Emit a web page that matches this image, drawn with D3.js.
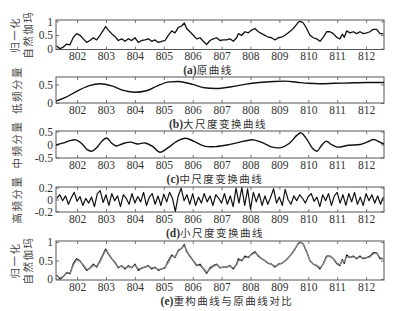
<!DOCTYPE html>
<html><head><meta charset="utf-8">
<script src="https://cdn.jsdelivr.net/npm/d3@7"></script>
<style>
html,body{margin:0;padding:0;background:#fff;}
svg{display:block;}
</style></head>
<body>
<svg id="chart" width="394" height="311"></svg>
<script>
// ---------- DATA ----------
const xTicks = [802, 803, 804, 805, 806, 807, 808, 809, 810, 811, 812];
const xDomain = [801.27, 812.62];

// (a) original curve
const origTime = [801.293,801.408,801.524,801.639,801.754,801.870,801.985,802.100,802.216,802.331,802.446,802.562,802.677,802.792,802.908,802.988,803.081,803.196,803.311,803.427,803.542,803.657,803.773,803.888,804.003,804.119,804.234,804.350,804.465,804.580,804.696,804.811,804.926,805.042,805.157,805.272,805.388,805.503,805.618,805.710,805.791,805.906,806.022,806.137,806.252,806.368,806.483,806.598,806.714,806.829,806.944,807.060,807.175,807.290,807.406,807.521,807.579,807.694,807.809,807.925,808.040,808.155,808.271,808.386,808.501,808.617,808.732,808.847,808.963,809.078,809.193,809.309,809.424,809.539,809.655,809.735,809.828,809.943,810.058,810.174,810.289,810.404,810.520,810.635,810.750,810.866,810.981,811.096,811.177,811.246,811.327,811.442,811.558,811.673,811.788,811.904,812.019,812.134,812.250,812.365,812.481,812.596];
const origValue = [0.10,0.00,0.06,0.17,0.14,0.42,0.55,0.49,0.36,0.23,0.30,0.40,0.32,0.49,0.68,0.81,0.68,0.55,0.45,0.30,0.36,0.27,0.36,0.30,0.40,0.23,0.30,0.32,0.36,0.27,0.32,0.23,0.27,0.30,0.49,0.65,0.58,0.78,0.83,0.94,0.74,0.62,0.49,0.36,0.40,0.27,0.15,0.30,0.36,0.40,0.30,0.32,0.32,0.36,0.27,0.40,0.55,0.49,0.62,0.58,0.68,0.74,0.62,0.55,0.49,0.42,0.40,0.32,0.40,0.42,0.49,0.58,0.68,0.81,0.97,1.00,0.94,0.74,0.49,0.40,0.36,0.27,0.42,0.62,0.62,0.55,0.42,0.36,0.53,0.42,0.65,0.58,0.62,0.55,0.62,0.55,0.58,0.62,0.71,0.71,0.55,0.55];
// (e) reconstructed curve (same sampling times)
const reconValue = [0.08,0.03,0.07,0.15,0.17,0.38,0.52,0.48,0.38,0.26,0.28,0.37,0.35,0.46,0.66,0.77,0.70,0.56,0.43,0.32,0.34,0.30,0.33,0.31,0.37,0.27,0.28,0.33,0.34,0.30,0.30,0.26,0.27,0.32,0.45,0.62,0.60,0.75,0.84,0.90,0.77,0.60,0.50,0.38,0.36,0.29,0.18,0.27,0.34,0.38,0.32,0.31,0.33,0.34,0.30,0.38,0.50,0.52,0.58,0.60,0.66,0.71,0.64,0.55,0.50,0.43,0.39,0.35,0.38,0.43,0.48,0.57,0.69,0.82,0.95,0.99,0.95,0.76,0.50,0.40,0.37,0.30,0.40,0.60,0.61,0.55,0.44,0.38,0.50,0.46,0.60,0.59,0.60,0.57,0.59,0.57,0.57,0.60,0.68,0.70,0.58,0.55];

// (b) low-frequency component
const lowTime  = [801.27,801.6,802.0,802.4,802.8,803.2,803.6,804.0,804.4,804.8,805.2,805.5,806.0,806.4,806.8,807.3,807.8,808.3,808.8,809.2,809.6,810.0,810.4,810.9,811.4,812.0,812.62];
const lowValue = [0.05,0.15,0.32,0.46,0.52,0.46,0.34,0.29,0.33,0.47,0.57,0.58,0.50,0.41,0.39,0.43,0.50,0.55,0.58,0.59,0.56,0.53,0.52,0.53,0.54,0.55,0.55];

// (c) mid-frequency component
const midTime  = [801.27,801.5,801.75,801.95,802.15,802.35,802.5,802.7,802.85,803.02,803.2,803.35,803.6,803.85,804.1,804.35,804.6,804.87,805.15,805.45,805.75,806.05,806.4,806.8,807.2,807.6,808.1,808.45,808.75,809.05,809.35,809.6,809.75,809.95,810.15,810.3,810.45,810.62,810.8,811.0,811.4,811.8,812.05,812.27,812.45,812.62];
const midValue = [-0.02,0.05,0.15,0.18,0.05,-0.2,-0.26,-0.1,0.12,0.25,0.05,-0.06,0.04,0.09,0.02,0.06,-0.06,-0.3,-0.12,0.12,0.24,0.12,-0.06,-0.08,-0.02,0.08,0.18,0.05,-0.1,-0.12,0.05,0.35,0.45,0.2,-0.15,-0.26,-0.05,0.13,0.0,-0.1,-0.03,0.0,0.1,0.19,0.1,0.02];

// (d) high-frequency component (sampled every 0.1 from 801.3)
const highStart = 801.3, highStep = 0.1;
const highValue = [0.02,0.08,-0.02,0.06,-0.08,0.03,0.12,-0.03,0.05,-0.1,0.02,-0.06,0.04,-0.12,0.1,0.15,-0.05,0.08,-0.1,0.1,-0.02,0.06,-0.12,0.08,0.02,-0.08,0.1,-0.06,0.05,-0.04,0.12,-0.1,0.04,0.1,-0.08,0.06,-0.1,0.09,-0.04,0.12,0.02,-0.2,0.06,0.19,-0.02,0.08,-0.08,0.1,-0.1,0.04,-0.06,0.1,-0.04,0.06,-0.1,0.08,0.02,-0.06,0.1,-0.08,0.06,-0.12,0.19,-0.06,0.2,-0.1,0.18,-0.16,0.12,-0.04,0.1,-0.1,0.06,-0.08,0.04,0.18,-0.06,0.04,-0.1,0.17,0.0,-0.08,0.06,-0.02,0.08,0.02,-0.06,0.05,0.1,-0.03,0.04,-0.12,0.08,-0.02,0.1,-0.1,0.06,0.12,-0.06,0.08,-0.1,0.1,-0.04,0.12,-0.08,0.04,-0.1,0.1,-0.02,0.08,-0.06,0.06,-0.08,0.04];

// panel texts / ticks
const panelCaptions = ["(a)原曲线","(b)大尺度变换曲线","(c)中尺度变换曲线","(d)小尺度变换曲线","(e)重构曲线与原曲线对比"];
const yLabelLines = [["归一化","自然伽玛"],["低频分量"],["中频分量"],["高频分量"],["归一化","自然伽玛"]];
const yTicksA = [0, 0.5, 1];
const yTicksB = [0, 0.5];
const yTicksC = [-0.5, 0, 0.5];
const yTicksD = [-0.2, 0, 0.2];
const yTicksE = [0, 0.5, 1];

// ---------- LAYOUT ----------
const L = 56, R = 384;
const panels = [
  {top:20,  bottom:49.5, domain:[-0.03,1.05], ticks:yTicksA, capX:208},
  {top:77,  bottom:103,  domain:[0,0.7],      ticks:yTicksB, capX:218},
  {top:131, bottom:158,  domain:[-0.52,0.52], ticks:yTicksC, capX:215},
  {top:187, bottom:212,  domain:[-0.21,0.21], ticks:yTicksD, capX:215},
  {top:241, bottom:280,  domain:[-0.03,1.03], ticks:yTicksE, capX:227}
];

const svg = d3.select("#chart");
const x = d3.scaleLinear().domain(xDomain).range([L, R]);
const serif = "'Liberation Serif','DejaVu Serif',serif";
const cjk = "'Noto Sans CJK SC','Noto Sans CJK JP',sans-serif";
const textCol = "#333";
const frameCol = "#555";

panels.forEach((p, i) => {
  const y = d3.scaleLinear().domain(p.domain).range([p.bottom, p.top]);
  p.y = y;
  const g = svg.append("g");
  const xb = d3.axisBottom(x).tickValues(xTicks).tickFormat(d3.format("d")).tickSizeInner(-3).tickSizeOuter(0);
  const gb = g.append("g").attr("transform", `translate(0,${p.bottom})`).call(xb);
  const xt = d3.axisTop(x).tickValues(xTicks).tickFormat("").tickSizeInner(-3).tickSizeOuter(0);
  const gt = g.append("g").attr("transform", `translate(0,${p.top})`).call(xt);
  const yl = d3.axisLeft(y).tickValues(p.ticks).tickFormat(d => String(d)).tickSizeInner(-3).tickSizeOuter(0).tickPadding(3);
  const gl = g.append("g").attr("transform", `translate(${L},0)`).call(yl);
  const yr = d3.axisRight(y).tickValues(p.ticks).tickFormat("").tickSizeInner(-3).tickSizeOuter(0);
  const gr = g.append("g").attr("transform", `translate(${R},0)`).call(yr);
  [gb, gt, gl, gr].forEach(a => {
    a.select(".domain").remove();
    a.selectAll(".tick line").attr("stroke", frameCol).attr("stroke-width", 0.8);
    a.selectAll("text").attr("font-family", serif).attr("font-size", 11.5).attr("fill", textCol);
  });
  gb.selectAll("text").attr("y", 6.5).attr("dy", "0.35em");
  // frame
  g.append("rect").attr("x", L).attr("y", p.top).attr("width", R - L).attr("height", p.bottom - p.top)
    .attr("fill", "none").attr("stroke", frameCol).attr("stroke-width", 1);
  // caption
  const cap = panelCaptions[i];
  const ct = g.append("text").attr("x", p.capX).attr("y", p.bottom + 21).attr("dy", "0.35em")
    .attr("text-anchor", "middle").attr("fill", textCol).attr("font-size", 10.5);
  ct.append("tspan").attr("font-family", serif).attr("font-weight", "bold").attr("font-size", 11.5).text(cap.slice(0, 3));
  ct.append("tspan").attr("font-family", cjk).attr("letter-spacing", 1.5).text(cap.slice(3));
  // y label
  const lines = yLabelLines[i];
  const cy = (p.top + p.bottom) / 2;
  lines.forEach((s, k) => {
    const lx = lines.length === 2 ? (k === 0 ? 15 : 28) : 17;
    g.append("text").attr("transform", `translate(${lx},${cy}) rotate(-90)`)
      .attr("text-anchor", "middle").attr("dy", "0.35em")
      .attr("font-family", cjk).attr("font-size", 10.5).attr("letter-spacing", 1.5)
      .attr("fill", "#444").text(s);
  });
});

const defs = svg.append("defs");
panels.forEach((p, i) => {
  defs.append("clipPath").attr("id", "clip" + i).append("rect")
    .attr("x", L).attr("y", p.top).attr("width", R - L).attr("height", p.bottom - p.top);
});

function drawLine(i, xs, ys, curve, color, width) {
  const p = panels[i];
  const pts = ys.map((v, k) => [xs[k], v]);
  const line = d3.line().x(d => x(d[0])).y(d => p.y(d[1])).curve(curve);
  svg.append("path").datum(pts).attr("clip-path", `url(#clip${i})`)
    .attr("d", line).attr("fill", "none").attr("stroke", color)
    .attr("stroke-width", width).attr("stroke-linejoin", "round");
}

const highTime = highValue.map((v, k) => highStart + k * highStep);

drawLine(0, origTime, origValue, d3.curveLinear, "#111", 1.3);
drawLine(1, lowTime, lowValue, d3.curveMonotoneX, "#111", 1.4);
drawLine(2, midTime, midValue, d3.curveCatmullRom, "#111", 1.4);
drawLine(3, highTime, highValue, d3.curveLinear, "#111", 1.2);
drawLine(4, origTime, origValue, d3.curveLinear, "#111", 1.2);
drawLine(4, origTime, reconValue, d3.curveLinear, "#888", 1.3);
</script>
</body></html>
